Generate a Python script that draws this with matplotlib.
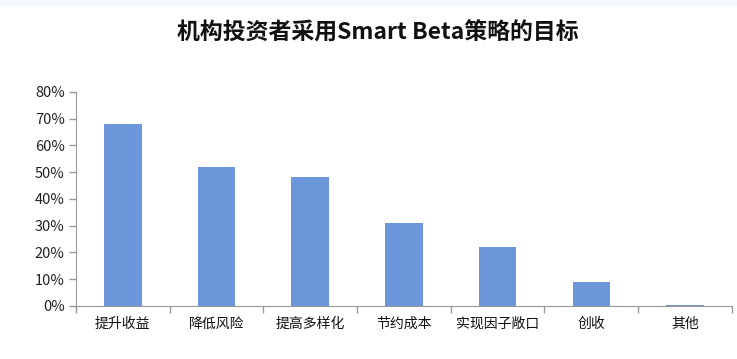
import matplotlib
matplotlib.use("Agg")
import matplotlib.pyplot as plt
import numpy as np

plt.rcParams['font.family'] = ['Noto Sans CJK SC', 'DejaVu Sans']

categories = ["提升收益", "降低风险", "提高多样化", "节约成本", "实现因子敞口", "创收", "其他"]
values = [68, 52, 48, 31, 22, 9, 0.5]
yticks = [0, 10, 20, 30, 40, 50, 60, 70, 80]
title = "机构投资者采用Smart Beta策略的目标"

fig = plt.figure(figsize=(7.37, 3.59), dpi=100)
fig.patch.set_facecolor("white")
# thin top band
fig.patches.append(plt.Rectangle((0, 0.985), 1, 0.015, transform=fig.transFigure,
                                 color="#f3f6fc", zorder=0))
ax = fig.add_axes([0.103, 0.148, 0.890, 0.596])
x = np.arange(len(categories))
ax.bar(x, values, width=0.4, color="#6b96d9", zorder=2)
ax.set_xlim(-0.5, len(categories) - 0.5)
ax.set_ylim(0, 80)
ax.set_yticks(yticks)
ax.set_yticklabels([f"{v}%" for v in yticks], fontsize=10.5, color="#222222")
ax.set_xticks(x)
ax.set_xticklabels(categories, fontsize=10, color="#111111")
ax.set_xticks(np.arange(len(categories) + 1) - 0.5, minor=True)
ax.tick_params(axis="x", which="major", length=0, pad=8)
ax.tick_params(axis="x", which="minor", length=5, color="#999999", width=1)
ax.tick_params(axis="y", length=5, color="#999999", width=1, pad=3)
for s in ["top", "right"]:
    ax.spines[s].set_visible(False)
for s in ["left", "bottom"]:
    ax.spines[s].set_color("#999999")
fig.text(0.513, 0.908, title, ha="center", va="center", fontsize=16.5, fontweight="bold", color="#111111")
fig.savefig("out.png", dpi=100)
